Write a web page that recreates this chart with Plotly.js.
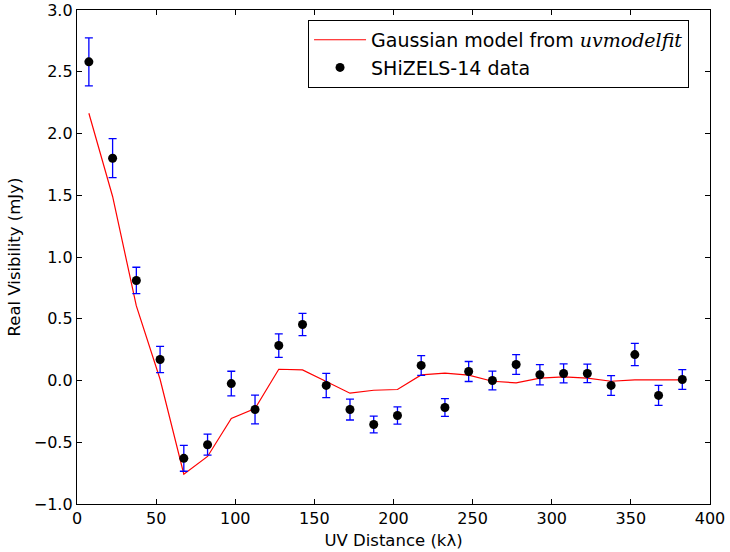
<!DOCTYPE html>
<html>
<head>
<meta charset="utf-8">
<script src="https://cdn.plot.ly/plotly-3.0.1.min.js"></script>
<style>html,body{margin:0;padding:0;background:#fff;}#chart{width:730px;height:552px;}</style>
</head>
<body>
<div id="chart"></div>
<script>
var uvDist = [7.5,22.5,37.5,52.5,67.5,82.5,97.5,112.5,127.5,142.5,157.5,172.5,187.5,202.5,217.5,232.5,247.5,262.5,277.5,292.5,307.5,322.5,337.5,352.5,367.5,382.5];
var dataVis = [2.58,1.80,0.81,0.17,-0.63,-0.52,-0.025,-0.235,0.283,0.453,-0.04,-0.235,-0.356,-0.283,0.122,-0.219,0.073,0.0,0.13,0.047,0.057,0.057,-0.04,0.21,-0.121,0.008];
var dataErr = [0.195,0.158,0.107,0.107,0.105,0.085,0.1,0.117,0.095,0.09,0.098,0.085,0.068,0.07,0.08,0.072,0.081,0.076,0.08,0.082,0.077,0.075,0.08,0.09,0.081,0.08];
var modelVis = [2.164,1.49,0.604,0.01,-0.759,-0.615,-0.308,-0.227,0.091,0.086,-0.008,-0.103,-0.079,-0.073,0.045,0.059,0.043,-0.006,-0.019,0.019,0.029,0.019,-0.006,0.005,0.005,0.005];
var xTicks = [0,50,100,150,200,250,300,350,400];
var yTicks = [-1.0,-0.5,0.0,0.5,1.0,1.5,2.0,2.5,3.0];

var traces = [
  {
    x: uvDist, y: modelVis, type: 'scatter', mode: 'lines',
    name: 'Gaussian model from <span style="font-family:\'DejaVu Serif\'"><i>uvmodelfit</i></span>',
    legendgroup: 'model',
    line: {color: '#ff0000', width: 1.2}
  },
  {
    x: uvDist, y: dataVis, type: 'scatter', mode: 'markers',
    name: 'SHiZELS-14 data',
    legendgroup: 'data',
    marker: {color: '#000000', size: 9},
    error_y: {type: 'data', array: dataErr, visible: true, color: '#0000ff', thickness: 1.3, width: 4}
  }
];

var axisCommon = {
  showgrid: false, zeroline: false, showline: true, linecolor: '#000', linewidth: 1.2,
  mirror: 'allticks', ticks: 'inside', ticklen: 5, tickcolor: '#000', tickwidth: 1,
  tickfont: {family: 'DejaVu Sans', size: 16, color: '#000'}
};

var layout = {
  width: 730, height: 552,
  margin: {l: 77, r: 20, t: 10, b: 48},
  paper_bgcolor: '#fff', plot_bgcolor: '#fff',
  showlegend: true,
  legend: {
    x: 0.365, y: 0.98, xanchor: 'left', yanchor: 'top',
    bordercolor: '#000', borderwidth: 1, bgcolor: '#fff',
    font: {family: 'DejaVu Sans', size: 19, color: '#000'},
    traceorder: 'grouped', tracegroupgap: 0, itemwidth: 52
  },
  xaxis: Object.assign({}, axisCommon, {
    range: [0, 400], tickvals: xTicks, ticktext: xTicks.map(String),
    title: {text: 'UV Distance (kλ)', font: {family: 'DejaVu Sans', size: 16.5, color: '#000'}, standoff: 7}
  }),
  yaxis: Object.assign({}, axisCommon, {
    range: [-1.0, 3.0], tickvals: yTicks, ticktext: yTicks.map(function(v){return (v<0?'\u2212':'') + Math.abs(v).toFixed(1);}),
    title: {text: 'Real Visibility (mJy)', font: {family: 'DejaVu Sans', size: 16.5, color: '#000'}, standoff: 9}
  })
};

Plotly.newPlot('chart', traces, layout, {displayModeBar: false, staticPlot: true});
</script>
</body>
</html>
